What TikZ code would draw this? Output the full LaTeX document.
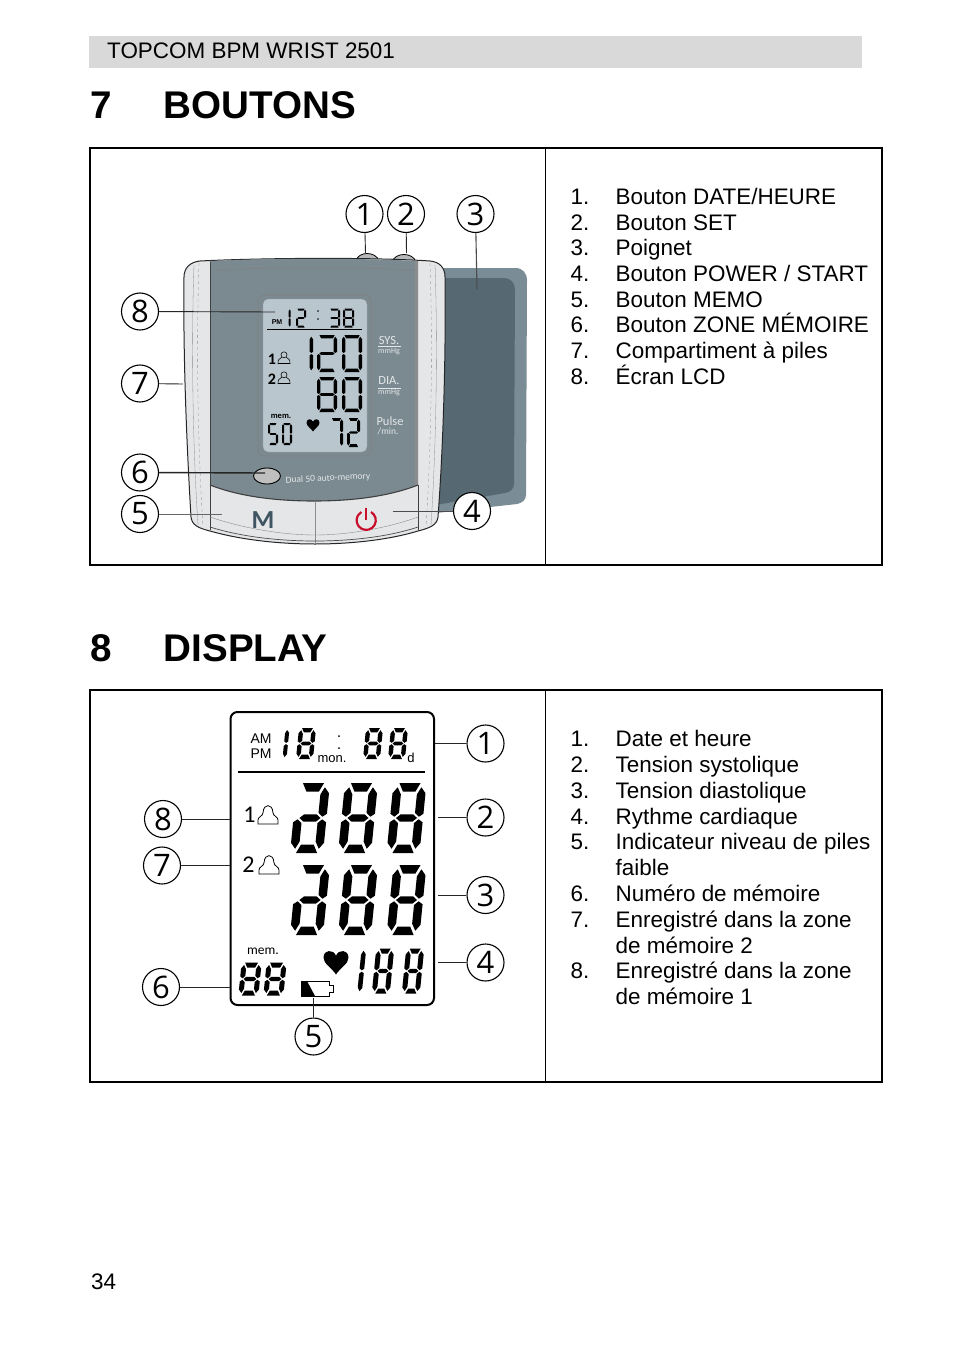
\documentclass[tikz,border=0pt]{standalone}
\usepackage{fontspec}
\setmainfont{Liberation Sans}
\newfontfamily\numfont{Open Sans}
\newfontfamily\carl{Carlito}
\definecolor{band}{HTML}{D9D9D9}
\definecolor{cuffa}{HTML}{7A8C95}
\definecolor{cuffb}{HTML}{566973}
\definecolor{panel}{HTML}{7B8A91}
\definecolor{lcdbg}{HTML}{B9C6CE}
\definecolor{shell}{HTML}{E4E6E8}
\definecolor{mgrey}{HTML}{3F5662}
\definecolor{redp}{HTML}{C8102E}
\definecolor{labelc}{HTML}{E2E6E8}
\tikzset{
 numc/.style={circle,draw=black,line width=1.1pt,fill=white,minimum size=37pt,inner sep=0pt,font=\numfont\fontsize{31}{31}\selectfont},
 lead/.style={draw=black!85,line width=0.9pt},
 tabline/.style={draw=black,line width=1.4pt},
 bodytext/.style={anchor=base west,inner sep=0pt,font=\fontsize{22.45}{26}\selectfont},
 headtext/.style={anchor=base west,inner sep=0pt,font=\bfseries\fontsize{38.6}{40}\selectfont},
 lcdlabel/.style={inner sep=0pt,text=labelc,font=\carl\fontsize{12.5}{13}\selectfont},
 lcdsmall/.style={inner sep=0pt,text=labelc,font=\carl\fontsize{8}{8}\selectfont},
 smalllcd/.style={anchor=base,inner sep=0pt,font=\fontsize{14}{14}\selectfont},
 shellline/.style={draw=black!45,line width=0.3pt},
}
% seven segment digits: left x at mid-height, centre y, w, h, thickness, slant, list
\newcommand{\lcdsega}{\fill ({\Lt*0.7},{-\Lh/2}) -- ({\Lw-\Lt*0.7},{-\Lh/2}) -- ({\Lw-\Lt*1.2},{-\Lh/2+\Lt}) -- ({\Lt*1.2},{-\Lh/2+\Lt}) -- cycle;}
\newcommand{\lcdsegd}{\fill ({\Lt*0.7},{\Lh/2}) -- ({\Lw-\Lt*0.7},{\Lh/2}) -- ({\Lw-\Lt*1.2},{\Lh/2-\Lt}) -- ({\Lt*1.2},{\Lh/2-\Lt}) -- cycle;}
\newcommand{\lcdsegg}{\fill ({\Lt*0.7},0) -- ({\Lt*1.2},{-\Lt*0.42}) -- ({\Lw-\Lt*1.2},{-\Lt*0.42}) -- ({\Lw-\Lt*0.7},0) -- ({\Lw-\Lt*1.2},{\Lt*0.42}) -- ({\Lt*1.2},{\Lt*0.42}) -- cycle;}
\newcommand{\lcdsegf}{\fill (0,{-\Lh/2+\Lt*1.2}) -- ({\Lt*0.55},{-\Lh/2+\Lt*0.5}) -- ({\Lt},{-\Lh/2+\Lt*1.35}) -- ({\Lt},{-\Lt*0.6}) -- ({\Lt*0.5},{-\Lt*0.15}) -- (0,{-\Lt*0.5}) -- cycle;}
\newcommand{\lcdsege}{\fill (0,{\Lh/2-\Lt*1.2}) -- ({\Lt*0.55},{\Lh/2-\Lt*0.5}) -- ({\Lt},{\Lh/2-\Lt*1.35}) -- ({\Lt},{\Lt*0.6}) -- ({\Lt*0.5},{\Lt*0.15}) -- (0,{\Lt*0.5}) -- cycle;}
\newcommand{\lcdsegb}{\fill ({\Lw},{-\Lh/2+\Lt*1.2}) -- ({\Lw-\Lt*0.55},{-\Lh/2+\Lt*0.5}) -- ({\Lw-\Lt},{-\Lh/2+\Lt*1.35}) -- ({\Lw-\Lt},{-\Lt*0.6}) -- ({\Lw-\Lt*0.5},{-\Lt*0.15}) -- ({\Lw},{-\Lt*0.5}) -- cycle;}
\newcommand{\lcdsegc}{\fill ({\Lw},{\Lh/2-\Lt*1.2}) -- ({\Lw-\Lt*0.55},{\Lh/2-\Lt*0.5}) -- ({\Lw-\Lt},{\Lh/2-\Lt*1.35}) -- ({\Lw-\Lt},{\Lt*0.6}) -- ({\Lw-\Lt*0.5},{\Lt*0.15}) -- ({\Lw},{\Lt*0.5}) -- cycle;}
\newcommand{\lcddig}[7]{\begin{scope}[shift={(#1,#2)},xslant=#6]
 \def\Lw{#3}\def\Lh{#4}\def\Lt{#5}
 \foreach \s in {#7}{\csname lcdseg\s\endcsname}
 \end{scope}}
\newcommand{\lcdheart}[3]{\fill[shift={(#1,#2)},scale=#3,black] (0,1) .. controls (-0.35,0.45) and (-1,0.15) .. (-1,-0.35) .. controls (-1,-1) and (-0.2,-1.05) .. (0,-0.5) .. controls (0.2,-1.05) and (1,-1) .. (1,-0.35) .. controls (1,0.15) and (0.35,0.45) .. (0,1) -- cycle;}
\newcommand{\persona}[2]{\begin{scope}[shift={(#1,#2)}]
 \draw[black,line width=0.55pt] (0,-3.2) circle (3);
 \draw[black,line width=0.55pt] (-2.2,-0.8) .. controls (-5,0.4) and (-6,2) .. (-6,5.5) -- (6,5.5) .. controls (6,2) and (5,0.4) .. (2.2,-0.8);
 \end{scope}}
\newcommand{\personb}[2]{\draw[black,line width=0.8pt,shift={(#1,#2)}] (-10,9) -- (10,9) -- (10,5) .. controls (10,1.5) and (5,1.5) .. (4.8,-3) .. controls (4.5,-11.5) and (-4.5,-11.5) .. (-4.8,-3) .. controls (-5,1.5) and (-10,1.5) .. (-10,5) -- cycle;}
\begin{document}
\begin{tikzpicture}[x=1pt,y=-1pt]
\useasboundingbox (0,0) rectangle (954,1351);
\fill[white] (0,0) rectangle (954,1351);
% header
\fill[band] (89,36) rectangle (862,68);
\node[bodytext] (hdr) at (107,59) {TOPCOM BPM WRIST 2501};
\node[headtext] (h7n) at (90.5,119) {7};
\node[headtext] (h7t) at (163.5,119) {BOUTONS};
\node[headtext] (h8n) at (90.5,661) {8};
\node[headtext] (h8t) at (163.5,661) {DISPLAY};
\node[bodytext] (pg) at (91,1289) {34};
% tables
\draw[tabline] (90,148) rectangle (882,565);
\draw[black,line width=0.8pt] (545.5,148) -- (545.5,565);
\draw[tabline] (90,690) rectangle (882,1082);
\draw[black,line width=0.8pt] (545.5,690) -- (545.5,1082);
% list 1
\foreach \i/\yy/\tx in {1/204.5/{Bouton DATE/HEURE},2/230/{Bouton SET},3/255/{Poignet},4/281/{Bouton POWER / START},5/307/{Bouton MEMO},6/332/{Bouton ZONE MÉMOIRE},7/358/{Compartiment à piles},8/384/{Écran LCD}}{
 \node[bodytext] (an\i) at (570.5,\yy) {\i.};
 \node[bodytext] (at\i) at (615.5,\yy) {\tx};
}
% list 2
\foreach \i/\yy/\tx in {1/746/{Date et heure},2/772/{Tension systolique},3/798/{Tension diastolique},4/824/{Rythme cardiaque},5/849/{Indicateur niveau de piles},6/901/{Numéro de mémoire},7/927/{Enregistré dans la zone},8/978/{Enregistré dans la zone}}{
 \node[bodytext] (bn\i) at (570.5,\yy) {\i.};
 \node[bodytext] (bt\i) at (615.5,\yy) {\tx};
}
\node[bodytext] (bt5b) at (615.5,875) {faible};
\node[bodytext] (bt7b) at (615.5,953) {de mémoire 2};
\node[bodytext] (bt8b) at (615.5,1004) {de mémoire 1};

% ---------- device ----------
% cuff
\fill[cuffa] (436,268) -- (515,268) .. controls (523,268) and (527,273) .. (527,281) -- (526,495) .. controls (526,500) and (522,503) .. (517,504) -- (436,513) -- cycle;
\fill[cuffb] (436,278) -- (504,278) .. controls (511,278) and (515,283) .. (515,290) -- (514,484) .. controls (514,489) and (510,492) .. (505,493) -- (436,505) -- cycle;
% top buttons
\fill[shell!80!black,draw=black,line width=0.8pt] (356,261) .. controls (358,251) and (376,251) .. (379,261) -- cycle;
\fill[shell!80!black,draw=black,line width=0.8pt] (392,262) .. controls (395,252) and (413,252) .. (416,262) -- cycle;
% shell
\fill[shell,draw=black!85,line width=1pt] (200,261) .. controls (260,258) and (370,257) .. (430,261)
 .. controls (440,262) and (445,268) .. (445,277)
 .. controls (446,360) and (443,450) .. (438,517)
 .. controls (437,525) and (430,528) .. (418,531)
 .. controls (385,541) and (345,544) .. (315,544)
 .. controls (285,544) and (245,541) .. (210,531)
 .. controls (198,528) and (192,525) .. (191,517)
 .. controls (187,450) and (183,360) .. (184,277)
 .. controls (184,268) and (190,262) .. (200,261) -- cycle;
\draw[shellline] (194,265) .. controls (191,350) and (193,450) .. (198,525);
\draw[shellline,dashed] (199,263) .. controls (196,350) and (198,450) .. (203,527);
\draw[shellline] (435,265) .. controls (438,350) and (436,450) .. (431,525);
\draw[shellline,dashed] (430,263) .. controls (433,350) and (431,450) .. (426,527);
% dark panel
\fill[panel] (210,261) .. controls (270,258) and (360,258) .. (418,261) -- (418,485) .. controls (385,498) and (345,501) .. (314,501) .. controls (283,501) and (243,498) .. (210,485) -- cycle;
\fill[black!45] (415,261) rectangle (418,485);
\draw[black!50,line width=0.5pt] (212,270) .. controls (270,267) and (360,267) .. (416,270);
\draw[black!75,line width=1pt] (210,262) -- (210,530);
\draw[black!75,line width=1pt] (418,485) -- (418,530);
\draw[black!75,line width=1.1pt] (210,485) .. controls (243,498) and (283,501) .. (314,501) .. controls (345,501) and (385,498) .. (418,485);
\draw[black!45,line width=0.5pt] (315,501) -- (315,544);
\draw[black!45,line width=0.4pt] (210,517) .. controls (245,529) and (285,535) .. (315,535) .. controls (345,535) and (385,529) .. (418,517);
\draw[black!70,line width=0.7pt] (210,527) .. controls (245,538) and (285,541) .. (315,541) .. controls (345,541) and (385,538) .. (418,527);
% LCD
\draw[black!50,fill=panel,line width=0.6pt,rounded corners=6pt] (258,295) rectangle (371,456);
\fill[lcdbg,draw=black!40,line width=0.4pt,rounded corners=5pt] (263,299) rectangle (367,452);
\node[inner sep=0pt,font=\bfseries\fontsize{7}{7}\selectfont] (apm) at (277,322) {PM};
\lcddig{287.5}{318}{3.2}{19}{2}{0}{b,c}
\lcddig{296}{318}{10}{19}{2}{0}{a,b,g,e,d}
\fill (318,311) circle (0.9) (318,319) circle (0.9);
\lcddig{329}{318}{11}{19}{2}{0}{a,b,g,c,d}
\lcddig{343}{318}{11}{19}{2}{0}{a,b,c,d,e,f,g}
\draw[black,line width=0.8pt] (267,329.5) -- (362,329.5);
\lcddig{308}{353.5}{5}{37}{3.4}{0}{b,c}
\lcddig{317}{353.5}{20}{37}{3.4}{0}{a,b,g,e,d}
\lcddig{342}{353.5}{20}{37}{3.4}{0}{a,b,c,d,e,f}
\lcddig{317}{394.5}{20}{35}{3.4}{0}{a,b,c,d,e,f,g}
\lcddig{342}{394.5}{20}{35}{3.4}{0}{a,b,c,d,e,f}
\lcddig{330}{432.5}{13}{29}{2.8}{0}{a,b,c}
\lcddig{347}{432.5}{13}{29}{2.8}{0}{a,b,g,e,d}
\lcddig{268}{434}{10}{22}{2.2}{0}{a,f,g,c,d}
\lcddig{282}{434}{10}{22}{2.2}{0}{a,b,c,d,e,f}
\node[inner sep=0pt,font=\carl\bfseries\fontsize{8.5}{9}\selectfont] (amem) at (281,416) {mem.};
\node[inner sep=0pt,font=\carl\bfseries\fontsize{16}{16}\selectfont] (ap1) at (272,359) {1};
\node[inner sep=0pt,font=\carl\bfseries\fontsize{16}{16}\selectfont] (ap2) at (272,379) {2};
\persona{284}{358}
\persona{284}{378}
\lcdheart{313}{425}{6.5}
\node[lcdlabel] (asys) at (389,340) {SYS.};
\draw[labelc,line width=0.5pt] (378,346) -- (401,346);
\node[lcdsmall] (ammh1) at (389,352) {mmHg};
\node[lcdlabel] (adia) at (389,381) {DIA.};
\draw[labelc,line width=0.5pt] (378,388) -- (401,388);
\node[lcdsmall] (ammh2) at (389,393) {mmHg};
\node[lcdlabel] (apulse) at (390,421) {Pulse};
\node[lcdsmall,font=\carl\fontsize{9.5}{10}\selectfont] (amin) at (388,431) {/min.};
% memory zone button
\draw[black,line width=0.9pt,fill=black!25] (267,476) ellipse (13.5 and 8);
\node[inner sep=0pt,text=labelc,rotate=3,font=\carl\fontsize{9.5}{10}\selectfont] (adual) at (328,478.5) {Dual 50 auto-memory};
% buttons
\node[inner sep=0pt,text=mgrey,font=\carl\bfseries\fontsize{26}{28}\selectfont] (amm) at (263,520) {M};
\draw[redp,line width=2.2pt] (371,512) arc[start angle=-60,end angle=240,radius=9.6];
\draw[redp,line width=2.2pt] (366.2,507.5) -- (366.2,520);
% callouts
\node[numc] (a1) at (364.5,214) {1};
\node[numc] (a2) at (406,214) {2};
\node[numc] (a3) at (475.5,214) {3};
\node[numc] (a4) at (472,511) {4};
\node[numc] (a5) at (140,514) {5};
\node[numc] (a6) at (140,472.5) {6};
\node[numc] (a7) at (140,383.5) {7};
\node[numc] (a8) at (140,311.5) {8};
\coordinate (a1e) at (365.5,253);
\coordinate (a2e) at (406.5,253);
\coordinate (a3e) at (477,289);
\coordinate (a4e) at (393,511);
\coordinate (a5e) at (222,514);
\coordinate (a6e) at (265,473);
\coordinate (a7e) at (183,384);
\coordinate (a8e) at (275,312);
\draw[lead] (a1) -- (a1e);
\draw[lead] (a2) -- (a2e);
\draw[lead,draw=black!70,line width=1.1pt] (a3) -- (a3e);
\draw[lead,draw=black!70] (a4) -- (a4e);
\draw[lead,draw=black!60] (a5) -- (a5e);
\draw[lead,line width=1.4pt] (a6) -- (a6e);
\draw[lead] (a7) -- (a7e);
\draw[lead] (a8) -- (a8e);

% ---------- display ----------
\draw[black,line width=2pt,rounded corners=7pt] (230.5,712) rectangle (434,1005);
\node[smalllcd] (bam) at (261,743) {AM};
\node[smalllcd] (bpm) at (261,758) {PM};
\lcddig{282.5}{743.5}{5.5}{31}{4}{0.1}{b,c}
\lcddig{297.5}{743.5}{17}{31}{4.4}{0.1}{a,b,c,d,e,f,g}
\node[smalllcd,font=\fontsize{13}{13}\selectfont] (bmon) at (332,762) {mon.};
\fill (339,736) circle (1) (339,748) circle (1);
\lcddig{364.5}{743.5}{17}{31}{4.4}{0.1}{a,b,c,d,e,f,g}
\lcddig{389.5}{743.5}{17}{31}{4.4}{0.1}{a,b,c,d,e,f,g}
\node[smalllcd,font=\fontsize{13}{13}\selectfont] (bd) at (411,762) {d};
\draw[black,line width=1.3pt] (238,772) -- (425,772);
\foreach \yy in {818,900}{
 \lcddig{293.5}{\yy}{33}{70}{8.5}{0.1}{a,b,c,d,e,g}
 \lcddig{341.5}{\yy}{33}{70}{8.5}{0.1}{a,b,c,d,e,f,g}
 \lcddig{390}{\yy}{33}{70}{8.5}{0.1}{a,b,c,d,e,f,g}
}
\node[inner sep=0pt,font=\carl\fontsize{24}{24}\selectfont] (bp1) at (249.5,815) {1};
\node[inner sep=0pt,font=\carl\fontsize{24}{24}\selectfont] (bp2) at (248.5,865) {2};
\personb{268}{815}
\personb{269}{865}
\node[inner sep=0pt,font=\carl\fontsize{13.5}{14}\selectfont] (bmem) at (263,951) {mem.};
\lcddig{240}{979}{20}{33}{5}{0.1}{a,b,c,d,e,f,g}
\lcddig{265}{979}{20}{33}{5}{0.1}{a,b,c,d,e,f,g}
\draw[black,line width=0.9pt] (301,981) -- (329,981) -- (329,985) -- (333,985) -- (333,992) -- (329,992) -- (329,996) -- (301,996) -- cycle;
\fill (301,981) -- (307,981) -- (315,996) -- (301,996) -- cycle;
\lcdheart{336}{962}{12.5}
\lcddig{358.5}{971}{5.5}{45}{4.6}{0.1}{b,c}
\lcddig{374}{971}{18}{45}{5}{0.1}{a,b,c,d,e,f,g}
\lcddig{404}{971}{18}{45}{5}{0.1}{a,b,c,d,e,f,g}
\node[numc] (b1) at (485.5,743.5) {1};
\node[numc] (b2) at (485.5,817.5) {2};
\node[numc] (b3) at (485.5,895) {3};
\node[numc] (b4) at (485.5,962.5) {4};
\node[numc] (b5) at (313.5,1036.5) {5};
\node[numc] (b6) at (161,987) {6};
\node[numc] (b7) at (162,865.5) {7};
\node[numc] (b8) at (163,819) {8};
\coordinate (b1e) at (435,743.5);
\coordinate (b2e) at (438,817.5);
\coordinate (b3e) at (438,895);
\coordinate (b4e) at (438,962.5);
\coordinate (b5e) at (313.5,998);
\coordinate (b6e) at (230,987);
\coordinate (b7e) at (230,865.5);
\coordinate (b8e) at (230,819);
\foreach \n in {1,...,8}{\draw[lead] (b\n) -- (b\n e);}
\end{tikzpicture}
\end{document}
